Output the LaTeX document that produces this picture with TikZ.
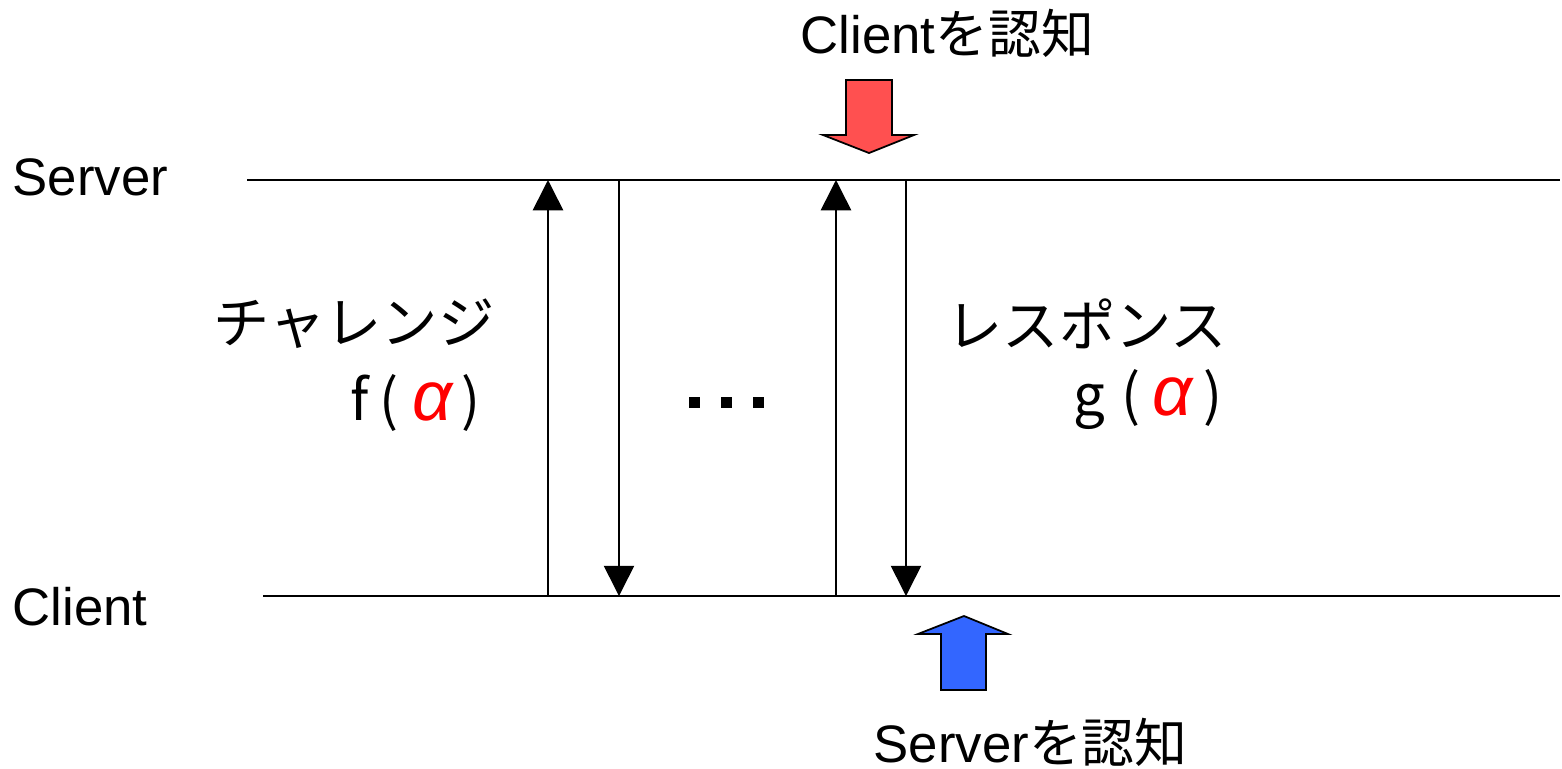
\documentclass[tikz,border=0pt]{standalone}
\usepackage{fontspec}
\setmainfont{Liberation Sans}
\newfontfamily\cjk{Noto Sans CJK JP}
\newfontfamily\cjkprop[CharacterWidth=Proportional]{Noto Sans CJK JP}
\newfontfamily\greekit{Liberation Sans Italic}
\usetikzlibrary{arrows.meta}
\definecolor{alertred}{RGB}{255,80,80}
\definecolor{ackblue}{RGB}{51,102,255}
\tikzset{
  lbl/.style={inner sep=0pt, anchor=base west, font=\fontsize{15}{18}\selectfont},
  jlbl/.style={inner sep=0pt, anchor=west, font=\fontsize{16}{19}\selectfont\cjk},
  flbl/.style={inner sep=0pt, anchor=west, font=\fontsize{16}{19}\selectfont\cjkprop},
  timeline/.style={line width=0.45pt},
  msg/.style={line width=0.45pt, -{Triangle[width=8.6pt,length=8.6pt]}},
  blockarrow/.style={draw=black, line width=0.5pt, line join=miter},
  dotsq/.style={fill=black, draw=none}
}
\newcommand{\redalpha}{\textcolor{red}{\greekit\fontsize{20}{20}\selectfont α}}
\begin{document}
\begin{tikzpicture}[x=0.01cm, y=-0.01cm]
\useasboundingbox (0,0) rectangle (1562,769);

% lifelines
\coordinate (sL) at (247,180);
\coordinate (sR) at (1560,180);
\coordinate (cL) at (263,596);
\coordinate (cR) at (1560,596);
\draw[timeline] (sL) -- (sR);
\draw[timeline] (cL) -- (cR);

\node[lbl] (server) at (12,195) {Server};
\node[lbl] (client) at (12,625) {Client};

% message endpoints
\coordinate (m1c) at (548,596); \coordinate (m1s) at (548,180);
\coordinate (m2s) at (619,180); \coordinate (m2c) at (619,596);
\coordinate (m3c) at (836,596); \coordinate (m3s) at (836,180);
\coordinate (m4s) at (906,180); \coordinate (m4c) at (906,596);
\draw[msg] (m1c) -- (m1s);
\draw[msg] (m2s) -- (m2c);
\draw[msg] (m3c) -- (m3s);
\draw[msg] (m4s) -- (m4c);

% ellipsis between rounds
\fill[dotsq] (689,397) rectangle (700,408);
\fill[dotsq] (721,397) rectangle (732,408);
\fill[dotsq] (753,397) rectangle (764,408);

% labels for challenge / response
\node[jlbl] (chal) at (213,324) {チャレンジ};
\node[flbl] (chalf) at (350,403) {f\kern3pt（\kern4pt\redalpha\kern2.5pt）};
\node[jlbl] (resp) at (946,324) {レスポンス};
\node[flbl] (respg) at (1073,400) {g\kern4.5pt（\kern3.5pt\redalpha\kern3pt）};

% authentication markers
\filldraw[blockarrow, fill=alertred]
  (846,80) -- (892,80) -- (892,135) -- (914,135) -- (869,153)
  -- (823,135) -- (846,135) -- cycle;
\filldraw[blockarrow, fill=ackblue]
  (964,616) -- (1008,634) -- (986,634) -- (986,690) -- (941,690)
  -- (941,634) -- (918,634) -- cycle;

\node[lbl] (authc) at (800,53) {Client{\cjk を認知}};
\node[lbl] (auths) at (873,762) {Server{\cjk を認知}};
\end{tikzpicture}
\end{document}
